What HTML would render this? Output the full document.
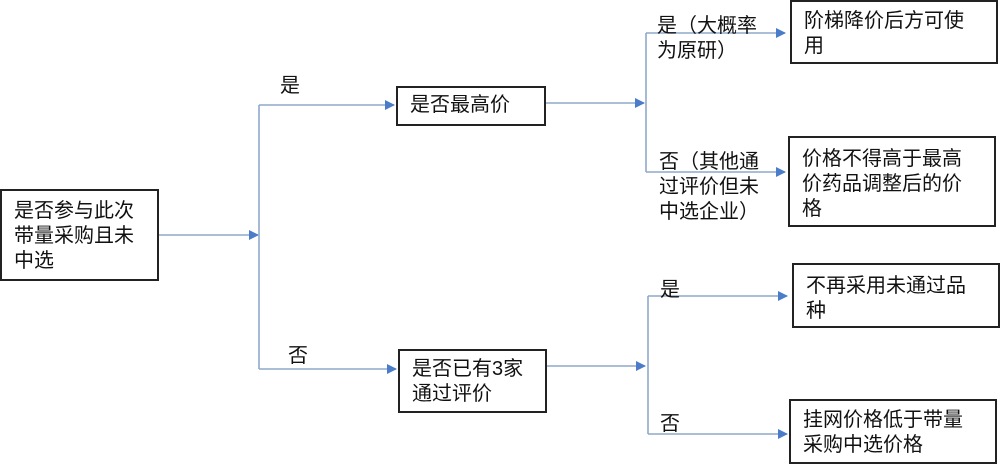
<!DOCTYPE html>
<html><head><meta charset="utf-8"><style>
body{margin:0;background:#fff;width:1000px;height:469px;overflow:hidden;position:relative;font-family:"Liberation Sans","Noto Sans CJK SC",sans-serif;color:#111}
.b{position:absolute;border:2px solid #222;box-sizing:border-box;font-size:20px;line-height:25px;padding:0 0 0 12px}
.t{position:absolute;font-size:20px;line-height:25px;white-space:nowrap}
svg{position:absolute;left:0;top:0}
</style></head><body>
<svg width="1000" height="469">
<defs><marker id="a" markerWidth="10" markerHeight="10" refX="9" refY="5" orient="auto" markerUnits="userSpaceOnUse"><path d="M0,0 L10,5 L0,10z" fill="#4a7cc9"/></marker></defs>
<g stroke="#8fa8cc" stroke-width="1.6" fill="none">
<line x1="159" y1="235" x2="258" y2="235" marker-end="url(#a)"/>
<line x1="259" y1="105" x2="259" y2="369"/>
<line x1="259" y1="105" x2="394" y2="105" marker-end="url(#a)"/>
<line x1="259" y1="369" x2="396" y2="369" marker-end="url(#a)"/>
<line x1="545" y1="103" x2="644" y2="103" marker-end="url(#a)"/>
<line x1="646" y1="33" x2="646" y2="172"/>
<line x1="646" y1="33" x2="785" y2="33" marker-end="url(#a)"/>
<line x1="646" y1="172" x2="785" y2="172" marker-end="url(#a)"/>
<line x1="546" y1="366" x2="645" y2="366" marker-end="url(#a)"/>
<line x1="648" y1="296" x2="648" y2="434"/>
<line x1="648" y1="296" x2="787" y2="296" marker-end="url(#a)"/>
<line x1="648" y1="434" x2="787" y2="434" marker-end="url(#a)"/>
</g></svg>
<div class="b" style="left:0;top:189;top:189px;width:159px;height:92px;padding-top:8px">是否参与此次<br>带量采购且未<br>中选</div>
<div class="b" style="left:396px;top:86px;width:150px;height:40px;padding-top:5px">是否最高价</div>
<div class="b" style="left:398px;top:349px;width:149px;height:64px;padding-top:6px">是否已有3家<br>通过评价</div>
<div class="b" style="left:790px;top:0px;width:208px;height:64px;padding-top:7px">阶梯降价后方可使<br>用</div>
<div class="b" style="left:788px;top:136px;width:208px;height:91px;padding-top:9px">价格不得高于最高<br>价药品调整后的价<br>格</div>
<div class="b" style="left:792px;top:263px;width:208px;height:65px;padding-top:9px">不再采用未通过品<br>种</div>
<div class="b" style="left:789px;top:399px;width:208px;height:65px;padding-top:7px">挂网价格低于带量<br>采购中选价格</div>
<div class="t" style="left:280px;top:74px">是</div>
<div class="t" style="left:288px;top:344px">否</div>
<div class="t" style="left:657px;top:14px">是（大概率<br>为原研）</div>
<div class="t" style="left:659px;top:150px">否（其他通<br>过评价但未<br>中选企业）</div>
<div class="t" style="left:660px;top:278px">是</div>
<div class="t" style="left:660px;top:412px">否</div>
</body></html>
